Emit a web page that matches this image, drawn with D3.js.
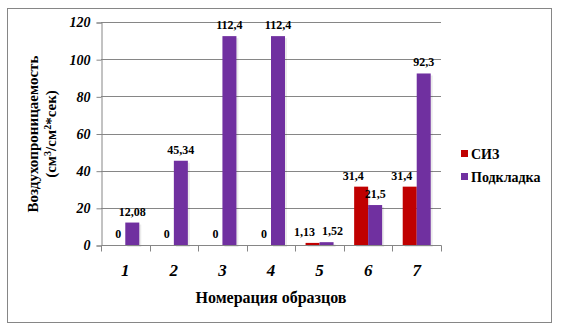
<!DOCTYPE html>
<html>
<head>
<meta charset="utf-8">
<script src="https://cdn.jsdelivr.net/npm/d3@7"></script>
</head>
<body style="margin:0;background:#fff">
<div id="chart"></div>
<script>
  // data
  const samples = ["1", "2", "3", "4", "5", "6", "7"];
  const siz = [0, 0, 0, 0, 1.13, 31.4, 31.4];
  const lining = [12.08, 45.34, 112.4, 112.4, 1.52, 21.5, 92.3];
  const sizLabels = ["0", "0", "0", "0", "1,13", "31,4", "31,4"];
  const liningLabels = ["12,08", "45,34", "112,4", "112,4", "1,52", "21,5", "92,3"];
  const yTicks = [0, 20, 40, 60, 80, 100, 120];
  const seriesNames = ["СИЗ", "Подкладка"];
  const colors = ["#C00000", "#7030A0"];

  const width = 561, height = 330;
  const plot = { left: 101, right: 441, top: 22, bottom: 245 };

  // every label in the chart is bold serif
  function serif(sel, size, italic) {
    return sel.attr("font-family", "Liberation Serif, serif")
      .attr("font-weight", "bold")
      .attr("font-style", italic ? "italic" : "normal")
      .attr("font-size", size)
      .attr("fill", "black");
  }

  const svg = d3.select("#chart").append("svg")
    .attr("width", width)
    .attr("height", height)
    .attr("font-family", "Liberation Serif, serif");

  // outer frame
  svg.append("rect")
    .attr("x", 7.5).attr("y", 8.5)
    .attr("width", 544).attr("height", 314)
    .attr("fill", "white")
    .attr("stroke", "#868686");

  const x = d3.scaleBand().domain(samples).range([plot.left, plot.right]);
  const y = d3.scaleLinear().domain([0, 120]).range([plot.bottom, plot.top]);
  const barW = 14;

  // gridlines
  svg.selectAll(".grid")
    .data(yTicks.filter(d => d > 0))
    .join("line")
    .attr("class", "grid")
    .attr("x1", plot.left).attr("x2", plot.right)
    .attr("y1", d => Math.round(y(d)) + 0.5)
    .attr("y2", d => Math.round(y(d)) + 0.5)
    .attr("stroke", "#868686");

  // y axis
  const yAxis = svg.append("g")
    .attr("transform", `translate(${plot.left + 0.5},0.5)`)
    .call(d3.axisLeft(y).tickValues(yTicks).tickSize(5).tickPadding(6));
  yAxis.attr("font-family", "Liberation Serif, serif");
  yAxis.select(".domain").attr("stroke", "#868686");
  yAxis.selectAll(".tick line").attr("stroke", "#868686");
  serif(yAxis.selectAll(".tick text"), 14, true);

  // bars with a faint shadow
  const groups = svg.selectAll(".grp")
    .data(samples)
    .join("g")
    .attr("class", "grp")
    .attr("transform", d => `translate(${x(d) + x.bandwidth() / 2},0)`);

  [siz, lining].forEach((vals, si) => {
    groups.append("rect")
      .attr("x", si === 0 ? -barW + 2 : 2)
      .attr("y", (d, i) => y(vals[i]) + 2)
      .attr("width", barW)
      .attr("height", (d, i) => y(0) - y(vals[i]))
      .attr("fill", "rgba(0,0,0,0.08)");
    groups.append("rect")
      .attr("x", si === 0 ? -barW : 0)
      .attr("y", (d, i) => y(vals[i]))
      .attr("width", barW)
      .attr("height", (d, i) => y(0) - y(vals[i]))
      .attr("fill", colors[si]);
  });

  // x axis
  const xAxis = svg.append("g")
    .attr("transform", `translate(0.5,${plot.bottom + 0.5})`);
  xAxis.append("line")
    .attr("x1", plot.left).attr("x2", plot.right)
    .attr("stroke", "#868686");
  xAxis.selectAll(".xt")
    .data(d3.range(samples.length + 1))
    .join("line")
    .attr("class", "xt")
    .attr("x1", i => Math.round(plot.left + i * x.step()))
    .attr("x2", i => Math.round(plot.left + i * x.step()))
    .attr("y1", 0).attr("y2", 6)
    .attr("stroke", "#868686");

  serif(svg.selectAll(".xl")
    .data(samples)
    .join("text")
    .attr("class", "xl")
    .attr("x", d => x(d) + x.bandwidth() / 2)
    .attr("y", 276)
    .attr("text-anchor", "middle")
    .text(d => d), 17, true);

  // data labels (pushed apart when both labels sit at nearly the same height)
  const close = i => siz[i] > 0 && Math.abs(y(siz[i]) - y(lining[i])) < 14;
  serif(groups.append("text")
    .attr("x", (d, i) => siz[i] > 0 ? -barW / 2 - 8 : -barW / 2)
    .attr("y", (d, i) => y(siz[i]) - 7)
    .attr("text-anchor", "middle")
    .text((d, i) => sizLabels[i]), 12);
  serif(groups.append("text")
    .attr("x", (d, i) => close(i) ? barW / 2 + 6 : barW / 2)
    .attr("y", (d, i) => y(lining[i]) - 7)
    .attr("text-anchor", "middle")
    .text((d, i) => liningLabels[i]), 12);

  // axis titles
  serif(svg.append("text")
    .attr("x", 271).attr("y", 303)
    .attr("text-anchor", "middle")
    .text("Номерация образцов"), 16);

  const yt = serif(svg.append("text")
    .attr("transform", "translate(38,134) rotate(-90)")
    .attr("text-anchor", "middle"), 15);
  yt.append("tspan").attr("x", 0).attr("dy", 0).text("Воздухопроницаемость");
  const l2 = yt.append("tspan").attr("x", 0).attr("dy", 18);
  l2.append("tspan").text("(см");
  l2.append("tspan").attr("baseline-shift", "super").attr("font-size", 10).text("3");
  l2.append("tspan").text("/см");
  l2.append("tspan").attr("baseline-shift", "super").attr("font-size", 10).text("2");
  l2.append("tspan").text("*сек)");

  // legend
  const legend = svg.selectAll(".leg")
    .data(seriesNames)
    .join("g")
    .attr("class", "leg")
    .attr("transform", (d, i) => `translate(461,${154 + i * 23})`);
  legend.append("rect")
    .attr("x", 0).attr("y", -4)
    .attr("width", 7).attr("height", 7)
    .attr("fill", (d, i) => colors[i]);
  serif(legend.append("text")
    .attr("x", 10).attr("y", 4.5)
    .text(d => d), 14);
</script>
</body>
</html>
